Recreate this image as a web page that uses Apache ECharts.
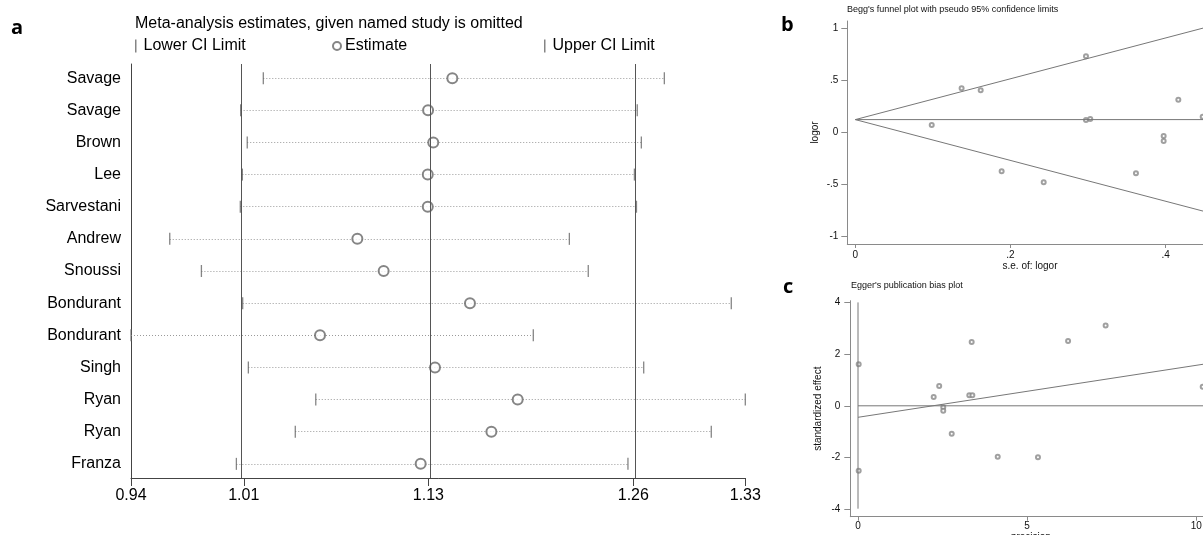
<!DOCTYPE html>
<html><head><meta charset="utf-8">
<script src="https://cdn.jsdelivr.net/npm/echarts@6/dist/echarts.min.js"></script>
<style>html,body{margin:0;padding:0;background:#fff}#c{width:1203px;height:535px}</style>
</head><body><div id="c"></div>
<script>
// ---- Panel a: influence analysis ----
const studies = ['Savage','Savage','Brown','Lee','Sarvestani','Andrew','Snoussi','Bondurant','Bondurant','Singh','Ryan','Ryan','Franza'];
const estimate = [1.1440,1.1286,1.1319,1.1284,1.1284,1.0837,1.1004,1.1552,1.0600,1.1330,1.1855,1.1688,1.1239];
const lowerCI  = [1.0240,1.0096,1.0138,1.0107,1.0094,0.9646,0.9847,1.0109,0.9400,1.0145,1.0573,1.0443,1.0069];
const upperCI  = [1.2786,1.2614,1.2640,1.2596,1.2609,1.2183,1.2303,1.3211,1.1954,1.2655,1.3300,1.3084,1.2555];
const axisTicksA = [0.9400,1.0116,1.1288,1.2589,1.3300];
const overallLines = [1.0116,1.1288,1.2589];
// ---- Panel b: Begg's funnel ----
const beggSE    = [0.0985,0.137,0.1616,0.2973,0.2973,0.3028,0.4163,0.4477,0.3974,0.3974,0.1886,0.2428,0.3617];
const beggLogor = [0.070,0.423,0.404,0.731,0.118,0.128,0.313,0.150,-0.036,-0.084,-0.375,-0.481,-0.394];
const funnelSE = [0, 0.46];
const funnelMid = [0.122, 0.122];
const funnelUpper = [0.122, 1.025];
const funnelLower = [0.122, -0.781];
const beggXTicks = [0, 0.2, 0.4];
const beggYTicks = [-1, -0.5, 0, 0.5, 1];
// ---- Panel c: Egger's ----
const eggerPrecision = [0.02,0.02,2.237,2.40,3.36,3.29,3.38,2.52,2.52,6.21,7.32,10.19,2.77,4.13,5.32];
const eggerEffect    = [1.605,-2.51,0.340,0.766,2.47,0.405,0.405,-0.06,-0.19,2.507,3.11,0.74,-1.08,-1.97,-1.99];
const eggerFitX = [0, 10.45];
const eggerFitY = [-0.445, 1.657];
const eggerZeroX = [0, 10.45];
const eggerZeroY = [0, 0];
const eggerCIX = [0, 0];
const eggerCIY = [-3.98, 4.0];
const eggerXTicks = [0, 5, 10];
const eggerYTicks = [-4, -2, 0, 2, 4];

const FF = "'Liberation Sans', Arial, sans-serif";
const stripZero = v => String(v).replace(/^(-?)0\./, '$1.');
const zip = (a, b) => a.map((v, i) => [v, b[i]]);
const rows = studies.map((_, i) => i);

const chart = echarts.init(document.getElementById('c'), null, {renderer: 'canvas'});
const smallAxis = (extra) => Object.assign({
  axisLine: {show: true, onZero: false, lineStyle: {color: '#8a8a8a', width: 1}},
  axisTick: {show: true, length: 5, lineStyle: {color: '#8a8a8a'}},
  splitLine: {show: false},
}, extra);

const option = {
  animation: false,
  backgroundColor: '#fff',
  textStyle: {fontFamily: FF},
  title: [
    {text: 'Meta-analysis estimates, given named study is omitted', left: 135, top: 16, padding: 0,
     textStyle: {fontSize: 16, fontWeight: 'normal', color: '#000', fontFamily: FF}},
    {text: "Begg's funnel plot with pseudo 95% confidence limits", left: 847, top: 5, padding: 0,
     textStyle: {fontSize: 9, fontWeight: 'normal', color: '#111', fontFamily: FF}},
    {text: "Egger's publication bias plot", left: 851, top: 281, padding: 0,
     textStyle: {fontSize: 9, fontWeight: 'normal', color: '#111', fontFamily: FF}}
  ],
  legend: [
    {data: [{name: 'Lower CI Limit', icon: 'rect'}], left: 135, top: 38, padding: 0, itemWidth: 1.5, itemHeight: 13,
     textStyle: {fontSize: 16, color: '#000', fontFamily: FF, padding: [0,0,0,2]}, selectedMode: false},
    {data: [{name: 'Estimate', icon: 'emptyCircle'}], left: 332, top: 38, padding: 0, itemWidth: 8, itemHeight: 8,
     textStyle: {fontSize: 16, color: '#000', fontFamily: FF, padding: [0,0,0,-1]}, selectedMode: false},
    {data: [{name: 'Upper CI Limit', icon: 'rect'}], left: 544, top: 38, padding: 0, itemWidth: 1.5, itemHeight: 13,
     textStyle: {fontSize: 16, color: '#000', fontFamily: FF, padding: [0,0,0,2]}, selectedMode: false}
  ],
  grid: [
    {left: 131, top: 64, width: 614.3, height: 414, outerBoundsMode: 'none', containLabel: false},
    {left: 847.3, top: 21, width: 365.4, height: 223, outerBoundsMode: 'none', containLabel: false},
    {left: 850.3, top: 300.7, width: 361.2, height: 216, outerBoundsMode: 'none', containLabel: false}
  ],
  xAxis: [
    {type: 'value', gridIndex: 0, min: 0.94, max: 1.33,
     axisLine: {show: true, onZero: false, lineStyle: {color: '#444', width: 1}},
     axisTick: {show: true, length: 8, customValues: axisTicksA, lineStyle: {color: '#444'}},
     axisLabel: {customValues: axisTicksA, formatter: v => v.toFixed(2), fontSize: 16, color: '#000', margin: 10, fontFamily: FF},
     splitLine: {show: false}},
    smallAxis({type: 'value', gridIndex: 1, min: -0.0103, max: 0.4606,
     name: 's.e. of: logor', nameLocation: 'middle', nameGap: 14,
     nameTextStyle: {fontSize: 10, color: '#111', fontFamily: FF},
     axisTick: {show: true, length: 4, customValues: beggXTicks, lineStyle: {color: '#8a8a8a'}},
     axisLabel: {customValues: beggXTicks, formatter: stripZero, fontSize: 10, color: '#111', margin: 6, fontFamily: FF}}),
    smallAxis({type: 'value', gridIndex: 2, min: -0.228, max: 10.45,
     name: 'precision', nameLocation: 'middle', nameGap: 16,
     nameTextStyle: {fontSize: 10, color: '#111', fontFamily: FF},
     axisTick: {show: true, length: 4, customValues: eggerXTicks, lineStyle: {color: '#8a8a8a'}},
     axisLabel: {customValues: eggerXTicks, formatter: stripZero, fontSize: 10, color: '#111', margin: 5, fontFamily: FF}})
  ],
  yAxis: [
    {type: 'value', gridIndex: 0, min: -0.44, max: 12.44, inverse: true,
     axisLine: {show: true, onZero: false, lineStyle: {color: '#444', width: 1}},
     axisTick: {show: false},
     axisLabel: {customValues: rows, formatter: v => studies[Math.round(v)], fontSize: 16, color: '#000', margin: 10, fontFamily: FF},
     splitLine: {show: false}},
    smallAxis({type: 'value', gridIndex: 1, min: -1.074, max: 1.07,
     name: 'logor', nameLocation: 'middle', nameGap: 27, nameRotate: 90,
     nameTextStyle: {fontSize: 10, color: '#111', fontFamily: FF},
     axisTick: {show: true, length: 6, customValues: beggYTicks, lineStyle: {color: '#8a8a8a'}},
     axisLabel: {customValues: beggYTicks, formatter: stripZero, fontSize: 10, color: '#111', margin: 9, fontFamily: FF}}),
    smallAxis({type: 'value', gridIndex: 2, min: -4.29, max: 4.066,
     name: 'standardized effect', nameLocation: 'middle', nameGap: 27, nameRotate: 90,
     nameTextStyle: {fontSize: 10, color: '#111', fontFamily: FF},
     axisTick: {show: true, length: 6, customValues: eggerYTicks, lineStyle: {color: '#8a8a8a'}},
     axisLabel: {customValues: eggerYTicks, formatter: stripZero, fontSize: 10, color: '#111', margin: 10, fontFamily: FF}})
  ],
  graphic: [
    {type: 'text', left: 11, top: 18, style: {text: 'a', font: "bold 20px 'Open Sans', sans-serif", fill: '#000'}},
    {type: 'text', left: 781, top: 15, style: {text: 'b', font: "bold 20px 'Open Sans', sans-serif", fill: '#000'}},
    {type: 'text', left: 783, top: 277, style: {text: 'c', font: "bold 20px 'Open Sans', sans-serif", fill: '#000'}}
  ],
  series: [
    {type: 'lines', coordinateSystem: 'cartesian2d', xAxisIndex: 0, yAxisIndex: 0, silent: true, z: 1,
     lineStyle: {color: '#9a9a9a', width: 1, type: [1, 2], opacity: 1},
     data: rows.map(i => ({coords: [[lowerCI[i], i], [upperCI[i], i]]}))},
    {name: 'Lower CI Limit', type: 'scatter', xAxisIndex: 0, yAxisIndex: 0, symbol: 'rect', symbolSize: [1.3, 12],
     itemStyle: {color: '#666'}, data: rows.map(i => [lowerCI[i], i]), z: 3},
    {name: 'Upper CI Limit', type: 'scatter', xAxisIndex: 0, yAxisIndex: 0, symbol: 'rect', symbolSize: [1.3, 12],
     itemStyle: {color: '#666'}, data: rows.map(i => [upperCI[i], i]), z: 3},
    {name: 'Estimate', type: 'scatter', xAxisIndex: 0, yAxisIndex: 0, symbol: 'emptyCircle', symbolSize: 10,
     itemStyle: {color: '#666', borderWidth: 0.9}, data: rows.map(i => [estimate[i], i]), z: 4,
     markLine: {silent: true, symbol: 'none', label: {show: false},
       lineStyle: {color: '#555', width: 1, type: 'solid'},
       data: overallLines.map(v => ({xAxis: v}))}},
    // panel b
    {type: 'line', xAxisIndex: 1, yAxisIndex: 1, showSymbol: false, silent: true,
     lineStyle: {color: '#777', width: 1}, data: zip(funnelSE, funnelMid)},
    {type: 'line', xAxisIndex: 1, yAxisIndex: 1, showSymbol: false, silent: true,
     lineStyle: {color: '#777', width: 1}, data: zip(funnelSE, funnelUpper)},
    {type: 'line', xAxisIndex: 1, yAxisIndex: 1, showSymbol: false, silent: true,
     lineStyle: {color: '#777', width: 1}, data: zip(funnelSE, funnelLower)},
    {type: 'scatter', xAxisIndex: 1, yAxisIndex: 1, symbol: 'emptyCircle', symbolSize: 4,
     itemStyle: {color: '#888', borderWidth: 1}, data: zip(beggSE, beggLogor)},
    // panel c
    {type: 'line', xAxisIndex: 2, yAxisIndex: 2, showSymbol: false, silent: true,
     lineStyle: {color: '#777', width: 1}, data: zip(eggerZeroX, eggerZeroY)},
    {type: 'line', xAxisIndex: 2, yAxisIndex: 2, showSymbol: false, silent: true,
     lineStyle: {color: '#777', width: 1}, data: zip(eggerFitX, eggerFitY)},
    {type: 'line', xAxisIndex: 2, yAxisIndex: 2, showSymbol: false, silent: true,
     lineStyle: {color: '#777', width: 1}, data: zip(eggerCIX, eggerCIY)},
    {type: 'scatter', xAxisIndex: 2, yAxisIndex: 2, symbol: 'emptyCircle', symbolSize: 4,
     itemStyle: {color: '#888', borderWidth: 1}, data: zip(eggerPrecision, eggerEffect)}
  ]
};
chart.setOption(option);
</script>
</body></html>
